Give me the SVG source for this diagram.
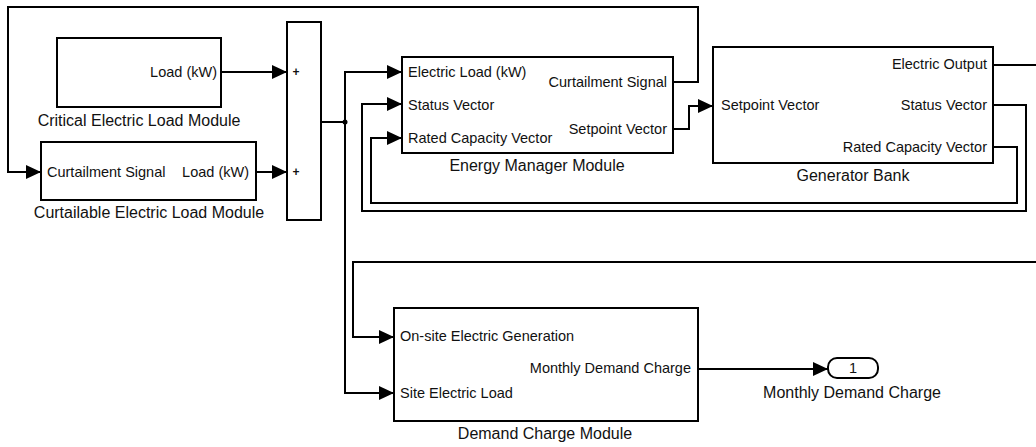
<svg xmlns="http://www.w3.org/2000/svg" width="1036" height="447" viewBox="0 0 1036 447">
<style>
.blk{fill:#fff;stroke:#000;stroke-width:2}
.ln{fill:none;stroke:#000;stroke-width:2}
.arr{fill:none;stroke:#000;stroke-width:2;marker-end:url(#ah)}
text{font-family:"Liberation Sans",Arial,sans-serif;fill:#111}
.p{font-size:14.5px}
.t{font-size:16px;text-anchor:middle}
.r{text-anchor:end}
.pl{font-size:12px;font-weight:bold;text-anchor:middle}
</style>
<defs>
<marker id="ah" markerUnits="userSpaceOnUse" markerWidth="16" markerHeight="16" refX="15" refY="8" orient="auto">
<path d="M0,1 L15,8 L0,15 z" fill="#000"/>
</marker>
</defs>
<rect width="1036" height="447" fill="#fff"/>
<g id="connectors">
<path class="arr" d="M221,72 H287"/>
<path class="arr" d="M256,172 H287"/>
<path class="ln" d="M321,122 H345"/>
<path class="arr" d="M345,122 V72 H402"/>
<path class="arr" d="M345,122 V393 H394"/>
<circle cx="345" cy="122" r="2.5" fill="#000"/>
<path class="arr" d="M673,82 H698 V7 H8 V172 H41"/>
<path class="arr" d="M673,129 H689 V106 H713"/>
<path class="arr" d="M993,105 H1026 V211 H362 V104 H402"/>
<path class="arr" d="M993,147 H1017 V203 H371 V138 H402"/>
<path class="ln" d="M993,65 H1036"/>
<path class="arr" d="M1036,262 H353 V337 H394"/>
<path class="arr" d="M698,369 H828"/>
</g>
<g id="critical">
<rect class="blk" x="57" y="38" width="164" height="69"/>
<text class="p r" x="217" y="77">Load (kW)</text>
<text class="t" x="139" y="126">Critical Electric Load Module</text>
</g>
<g id="curtailable">
<rect class="blk" x="41" y="142" width="215" height="58"/>
<text class="p" x="47" y="177">Curtailment Signal</text>
<text class="p r" x="249" y="177">Load (kW)</text>
<text class="t" x="149" y="218">Curtailable Electric Load Module</text>
</g>
<g id="sum">
<rect class="blk" x="287" y="22" width="34" height="198"/>
<text class="pl" x="296" y="76">+</text>
<text class="pl" x="296" y="176">+</text>
</g>
<g id="energy-manager">
<rect class="blk" x="402" y="57" width="271" height="96"/>
<text class="p" x="408" y="77">Electric Load (kW)</text>
<text class="p" x="408" y="110">Status Vector</text>
<text class="p" x="408" y="143">Rated Capacity Vector</text>
<text class="p r" x="667" y="87">Curtailment Signal</text>
<text class="p r" x="667" y="134">Setpoint Vector</text>
<text class="t" x="537" y="171">Energy Manager Module</text>
</g>
<g id="generator-bank">
<rect class="blk" x="713" y="47" width="280" height="116"/>
<text class="p" x="721" y="110">Setpoint Vector</text>
<text class="p r" x="987" y="69">Electric Output</text>
<text class="p r" x="987" y="110">Status Vector</text>
<text class="p r" x="987" y="152">Rated Capacity Vector</text>
<text class="t" x="853" y="181">Generator Bank</text>
</g>
<g id="demand-charge">
<rect class="blk" x="394" y="308" width="304" height="113"/>
<text class="p" x="400" y="341">On-site Electric Generation</text>
<text class="p" x="400" y="398">Site Electric Load</text>
<text class="p r" x="691" y="373">Monthly Demand Charge</text>
<text class="t" x="545" y="439">Demand Charge Module</text>
</g>
<g id="outport">
<rect class="blk" x="828" y="358" width="50" height="20" rx="9"/>
<text class="p" x="853" y="373" text-anchor="middle">1</text>
<text class="t" x="852" y="398">Monthly Demand Charge</text>
</g>
</svg>
